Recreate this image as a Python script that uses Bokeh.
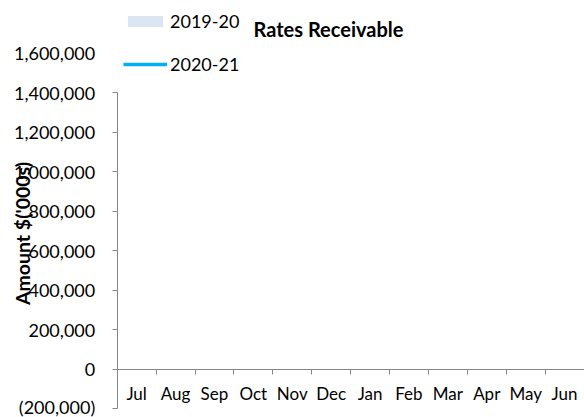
import math
from bokeh.plotting import figure
from bokeh.models import Range1d, FixedTicker, Legend, LegendItem, Label
from bokeh.embed import file_html
from bokeh.resources import INLINE

nan = float("nan")

# ---- data ----
months = ["Jul", "Aug", "Sep", "Oct", "Nov", "Dec", "Jan", "Feb", "Mar", "Apr", "May", "Jun"]
rates_2019_20 = [nan, nan, nan, nan, nan, nan, nan, nan, nan, nan, nan, nan]
rates_2020_21 = [nan, nan, nan, nan, nan, nan, nan, nan, nan, nan, nan, nan]
y_ticks = [-200000, 0, 200000, 400000, 600000, 800000, 1000000, 1200000, 1400000]
y_top_label = 1600000
series_names = ["2019-20", "2020-21"]
chart_title = "Rates Receivable"
y_title = "Amount $('000s)"

FONT = "Lato"
AXIS_GRAY = "#868686"

# ---- layout (pixels) ----
W, H = 584, 417
AX_X = 116.7        # pixel x of the value axis
CAT_PX = 38.9       # pixel width of one month
ZERO_Y = 368.5      # pixel y of value 0 (from top)
STEP_PX = 39.5      # pixels per 200,000

def fmt(v):
    return f"{v:,}" if v >= 0 else f"({-v:,})"

n = len(months)
centers = [i + 0.5 for i in range(n)]
bounds = list(range(n + 1))

x_start = -AX_X / CAT_PX
x_end = (W - AX_X) / CAT_PX
y_end = ZERO_Y / STEP_PX * 200000
y_start = -(H - ZERO_Y) / STEP_PX * 200000

p = figure(width=W, height=H, output_backend="svg", toolbar_location=None,
           x_range=Range1d(x_start, x_end), y_range=Range1d(y_start, y_end),
           min_border=0, min_border_left=0, min_border_right=0,
           min_border_top=0, min_border_bottom=0)
p.outline_line_color = None
p.xgrid.visible = False
p.ygrid.visible = False
p.background_fill_color = "white"
p.border_fill_color = "white"

bars = p.vbar(x=centers, top=rates_2019_20, width=0.6, fill_color="#DCE6F2", line_color=None)
line = p.line(x=centers, y=rates_2020_21, line_color="#00B0F0", line_width=3.5)

# y axis
ya = p.yaxis[0]
ya.fixed_location = 0
ya.ticker = FixedTicker(ticks=y_ticks)
ya.bounds = (y_ticks[0], y_ticks[-1])
ya.major_label_overrides = {t: fmt(t) for t in y_ticks}
ya.axis_line_color = AXIS_GRAY
ya.major_tick_line_color = AXIS_GRAY
ya.major_tick_out = 5
ya.major_tick_in = 0
ya.minor_tick_line_color = None
ya.major_label_standoff = 17
ya.major_label_text_font = FONT
ya.major_label_text_font_size = "18px"
ya.major_label_text_color = "black"

# x axis at zero
xa = p.xaxis[0]
xa.fixed_location = 0
xa.bounds = (0, n)
xa.ticker = FixedTicker(ticks=centers, minor_ticks=bounds)
xa.major_label_overrides = {c: m for c, m in zip(centers, months)}
xa.axis_line_color = AXIS_GRAY
xa.major_tick_line_color = None
xa.major_tick_out = 0
xa.major_tick_in = 0
xa.minor_tick_line_color = AXIS_GRAY
xa.minor_tick_out = 5
xa.minor_tick_in = 0
xa.major_label_standoff = 9
xa.major_label_text_font = FONT
xa.major_label_text_font_size = "17px"
xa.major_label_text_color = "black"

# top value label without tick
p.add_layout(Label(x=0, y=y_top_label, x_units="data", y_units="data", text=fmt(y_top_label),
                   text_align="right", text_baseline="middle", x_offset=-22,
                   text_font=FONT, text_font_size="18px", text_color="black"))

# title
p.add_layout(Label(x=328, y=H - 28.5, x_units="screen", y_units="screen", text=chart_title,
                   text_align="center", text_baseline="middle", text_font=FONT,
                   text_font_size="20px", text_font_style="bold", text_color="black"))

# y axis title
p.add_layout(Label(x=22, y=H - 233, x_units="screen", y_units="screen", text=y_title,
                   angle=math.pi / 2, text_align="center", text_baseline="middle",
                   text_font=FONT, text_font_size="19.5px", text_font_style="bold",
                   text_color="black"))

legend = Legend(items=[LegendItem(label=series_names[0], renderers=[bars]),
                       LegendItem(label=series_names[1], renderers=[line])],
                location=(123, H - 75), orientation="vertical", padding=0, margin=0,
                spacing=21, glyph_width=44, glyph_height=14, label_height=20,
                label_standoff=3, border_line_color=None, background_fill_alpha=0,
                label_text_font=FONT, label_text_font_size="18px", label_text_color="black")
p.add_layout(legend, "center")

open("out.html", "w").write(file_html(p, INLINE))
